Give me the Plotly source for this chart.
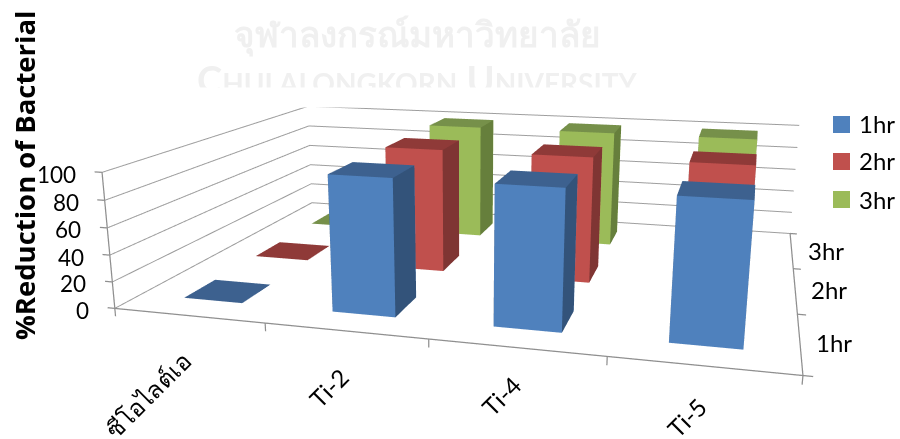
import plotly.graph_objects as go

categories = ["ซีโอไลต์เอ", "Ti-2", "Ti-4", "Ti-5"]
series_names = ["1hr", "2hr", "3hr"]
values_1hr = [0, 100, 100, 99]
values_2hr = [0, 99, 99, 99]
values_3hr = [0, 99, 99, 99]
z_ticks = [0, 20, 40, 60, 80, 100]
x_ticks = [0, 1, 2, 3, 4]
y_ticks = [0, 1, 2, 3]
front_colors = ["#4F81BD", "#C0504D", "#9BBB59"]
top_colors = ["#3D618F", "#8F3A38", "#76904A"]
side_colors = ["#33537A", "#7F3533", "#667F3C"]

FIG_W, FIG_H, SHIFT = 932, 866, 186
BAR_HALF = 0.2
XMAX, YMAX, ZMAX = x_ticks[-1], y_ticks[-1], z_ticks[-1]
TICK_X, TICK_Z = 0.05, 6
GREY = "#9E9E9E"
cat_label_shift = [(11, -28), (12, -28), (14, -20), (12, -23)]


def px(x, y):
    return x / FIG_W, 1 - (y + SHIFT) / FIG_H


def bars(values, depth, idx):
    X, Y, Z, I, J, K, C = [], [], [], [], [], [], []
    for cat, v in enumerate(values):
        n = len(X)
        x0, x1 = cat + .5 - BAR_HALF, cat + .5 + BAR_HALF
        y0, y1 = depth + .5 - BAR_HALF, depth + .5 + BAR_HALF
        for zz in (0, v):
            X += [x0, x1, x1, x0]
            Y += [y0, y0, y1, y1]
            Z += [zz] * 4
        quads = [((4, 5, 6, 7), top_colors[idx]), ((0, 1, 5, 4), front_colors[idx]),
                 ((1, 2, 6, 5), side_colors[idx]), ((3, 0, 4, 7), side_colors[idx]),
                 ((2, 3, 7, 6), front_colors[idx])]
        for (a, b, c, d), col in quads:
            I += [n + a, n + a]
            J += [n + b, n + c]
            K += [n + c, n + d]
            C += [col, col]
    return go.Mesh3d(x=X, y=Y, z=Z, i=I, j=J, k=K, facecolor=C, flatshading=True, name=series_names[idx],
                     lighting=dict(ambient=1, diffuse=0, specular=0, fresnel=0, roughness=1), hoverinfo="skip")


# gridlines on the two back walls, axis lines and tick marks
gx, gy, gz = [], [], []
for t in z_ticks:
    gx += [0, 0, XMAX, None]
    gy += [0, YMAX, YMAX, None]
    gz += [t, t, t, None]
grid = go.Scatter3d(x=gx, y=gy, z=gz, mode="lines", line=dict(color=GREY, width=2), hoverinfo="skip")

ax, ay, az = [0, XMAX, XMAX, None, 0, 0], [0, 0, YMAX, None, 0, 0], [0, 0, 0, None, 0, ZMAX]
for t in z_ticks:
    ax += [None, -TICK_X, 0]
    ay += [None, 0, 0]
    az += [None, t, t]
for t in x_ticks:
    ax += [None, t, t]
    ay += [None, 0, 0]
    az += [None, 0, -TICK_Z]
for t in y_ticks:
    ax += [None, XMAX, XMAX + TICK_X]
    ay += [None, t, t]
    az += [None, 0, 0]
axes = go.Scatter3d(x=ax, y=ay, z=az, mode="lines", line=dict(color="#8F8F8F", width=2.5), hoverinfo="skip")

fig = go.Figure([grid, axes] + [bars(v, d, d) for d, v in enumerate([values_1hr, values_2hr, values_3hr])])

hidden = dict(visible=False, showgrid=False, showspikes=False, zeroline=False, showbackground=False)

annots = []
for i, c in enumerate(categories):
    sx, sy = cat_label_shift[i]
    annots.append(dict(x=i + .5, y=0, z=0, text=c, showarrow=False, textangle=-45, xanchor="right", yanchor="top",
                       xshift=sx, yshift=sy, font=dict(family="Lato, Noto Sans, sans-serif", size=24, color="black")))
for j, s in enumerate(series_names):
    annots.append(dict(x=XMAX, y=j + .5, z=0, text=s, showarrow=False, xanchor="left", yanchor="middle", xshift=14,
                       font=dict(family="Lato", size=24, color="black")))
for t in z_ticks:
    annots.append(dict(x=0, y=0, z=t, text=str(t), showarrow=False, xanchor="right", yanchor="middle", xshift=-24,
                       yshift=-2, font=dict(family="Lato", size=22.5, color="black")))

fig.update_layout(
    width=FIG_W, height=FIG_H, autosize=False, margin=dict(l=0, r=0, t=0, b=0, pad=0),
    paper_bgcolor="white", showlegend=False,
    scene=dict(
        domain=dict(x=[0, 1], y=[0, 1]),
        aspectmode="manual", aspectratio=dict(x=1.05, y=.7936, z=.2526),
        camera=dict(eye=dict(x=.4163, y=-1.6838, z=.4062), center=dict(x=-.0403, y=-.0299, z=-.0654),
                    up=dict(x=0, y=0, z=1)),
        xaxis=dict(range=[-2 * TICK_X, XMAX + 2 * TICK_X], **hidden),
        yaxis=dict(range=[-.1, YMAX + .1], **hidden),
        zaxis=dict(range=[-10, ZMAX + 10], **hidden),
        annotations=annots,
    ),
)

# Legend
anns = []
shapes = []
for k, (s, y0) in enumerate(zip(series_names, [116, 153, 191])):
    x0p, y0p = px(833, y0)
    x1p, y1p = px(850, y0 + 17)
    shapes.append(dict(type="rect", xref="paper", yref="paper", x0=x0p, x1=x1p, y0=y0p, y1=y1p,
                       fillcolor=front_colors[k], line=dict(width=0)))
    xp, yp = px(857, y0 + 8)
    anns.append(dict(xref="paper", yref="paper", x=xp, y=yp, text=s, showarrow=False, xanchor="left", yanchor="middle",
                     font=dict(family="Lato", size=24, color="black")))
# Axis title
xp, yp = px(24, 176)
anns.append(dict(xref="paper", yref="paper", x=xp, y=yp, text="<b>%Reduction of Bacterial</b>", showarrow=False,
                 textangle=-90, xanchor="center", yanchor="middle",
                 font=dict(family="Open Sans", size=27.5, color="black")))
# Watermark
xp, yp = px(417, 33)
anns.append(dict(xref="paper", yref="paper", x=xp, y=yp, text="<b>จุฬาลงกรณ์มหาวิทยาลัย</b>", showarrow=False,
                 xanchor="center", yanchor="middle",
                 font=dict(family="Noto Sans, sans-serif", size=35, color="#F0F0F0")))
xp, yp = px(417, 79)
anns.append(dict(xref="paper", yref="paper", x=xp, y=yp,
                 text="<b>C<span style='font-size:28px'>HULALONGKORN</span> U<span style='font-size:28px'>NIVERSITY</span></b>",
                 showarrow=False, xanchor="center", yanchor="middle", font=dict(family="Lato", size=38, color="#F0F0F0")))
xp, yp = px(417, 97)
anns.append(dict(xref="paper", yref="paper", x=xp, y=yp, text=" ", width=480, height=17, bgcolor="white",
                 showarrow=False, xanchor="center", yanchor="middle", font=dict(size=10)))
fig.update_layout(annotations=anns, shapes=shapes)

post = f"""
document.body.style.margin='0';document.body.style.overflow='hidden';
document.querySelector('.plotly-graph-div').style.marginTop='-{SHIFT}px';
"""
fig.write_html("out.html", post_script=post, config=dict(displayModeBar=False))
